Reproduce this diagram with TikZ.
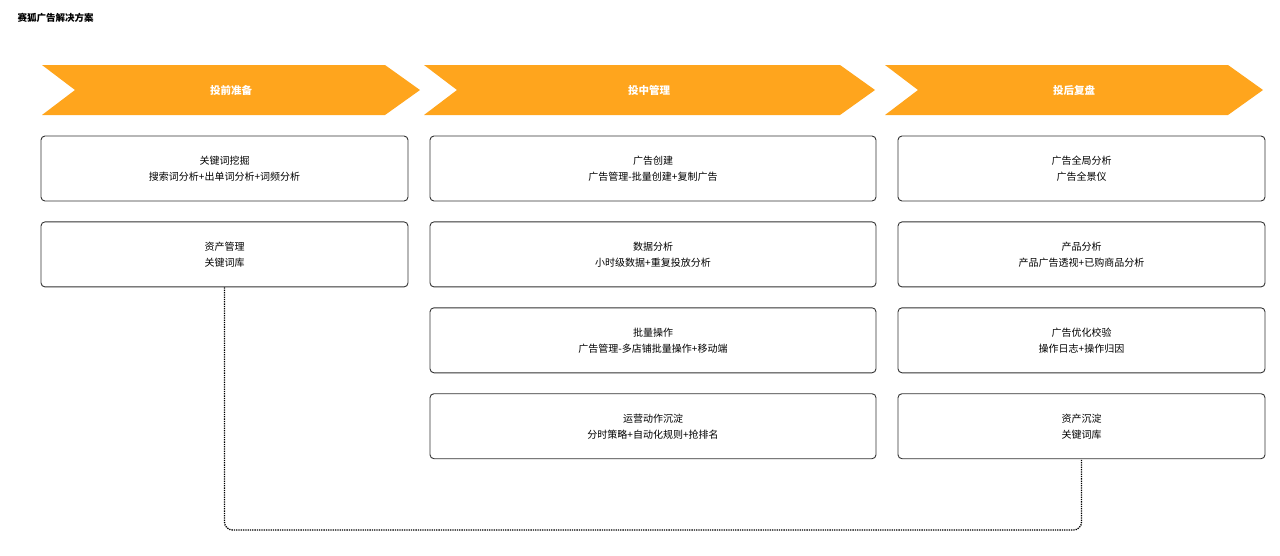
\documentclass[tikz,border=0pt]{standalone}
\usepackage{fontspec}
\setmainfont{Noto Sans CJK SC}
\usetikzlibrary{positioning}
\definecolor{o1}{HTML}{FFA51D}
\definecolor{g}{HTML}{333333}
\tikzset{
    stage/.style={fill=o1,draw=none},
    stagetext/.style={text=white,font=\fontsize{10.5}{12}\selectfont\bfseries},
    item/.style={draw=g,rounded corners=4pt,line width=0.9pt,align=center,
        minimum height=65pt,inner sep=0pt,font=\fontsize{10}{16}\selectfont},
    link/.style={densely dotted,line width=1.3pt,rounded corners=8pt}
}
\begin{document}
\begin{tikzpicture}[x=1pt,y=-1pt]
\useasboundingbox (0,0) rectangle (1280,555);
\node[anchor=west,font=\fontsize{9.5}{11}\selectfont\bfseries] (title) at (14,18) {赛狐广告解决方案};
% stages
\fill[stage] (42,65) -- (385,65) -- (420,90) -- (385,115) -- (42,115) -- (75,90) -- cycle;
\fill[stage] (424,65) -- (840,65) -- (875,90) -- (840,115) -- (424,115) -- (457,90) -- cycle;
\fill[stage] (885,65) -- (1228,65) -- (1263,90) -- (1228,115) -- (885,115) -- (918,90) -- cycle;
\node[stagetext] (s1) at (231,90) {投前准备};
\node[stagetext] (s2) at (649,90) {投中管理};
\node[stagetext] (s3) at (1074,90) {投后复盘};
% column 1
\node[item,minimum width=367pt] (a1) at (224.5,168.5) {关键词挖掘\\搜索词分析+出单词分析+词频分析};
\node[item,minimum width=367pt,below=20pt of a1] (a2) {资产管理\\关键词库};
% column 2
\node[item,minimum width=446pt] (b1) at (653,168.5) {广告创建\\广告管理-批量创建+复制广告};
\node[item,minimum width=446pt,below=20pt of b1] (b2) {数据分析\\小时级数据+重复投放分析};
\node[item,minimum width=446pt,below=20pt of b2] (b3) {批量操作\\广告管理-多店铺批量操作+移动端};
\node[item,minimum width=446pt,below=20pt of b3] (b4) {运营动作沉淀\\分时策略+自动化规则+抢排名};
% column 3
\node[item,minimum width=367pt] (c1) at (1081.5,168.5) {广告全局分析\\广告全景仪};
\node[item,minimum width=367pt,below=20pt of c1] (c2) {产品分析\\产品广告透视+已购商品分析};
\node[item,minimum width=367pt,below=20pt of c2] (c3) {广告优化校验\\操作日志+操作归因};
\node[item,minimum width=367pt,below=20pt of c3] (c4) {资产沉淀\\关键词库};
% feedback link
\draw[link] (a2.south) -- (a2.south |- 0,530) -- (c4.south |- 0,530) -- (c4.south);
\end{tikzpicture}
\end{document}
